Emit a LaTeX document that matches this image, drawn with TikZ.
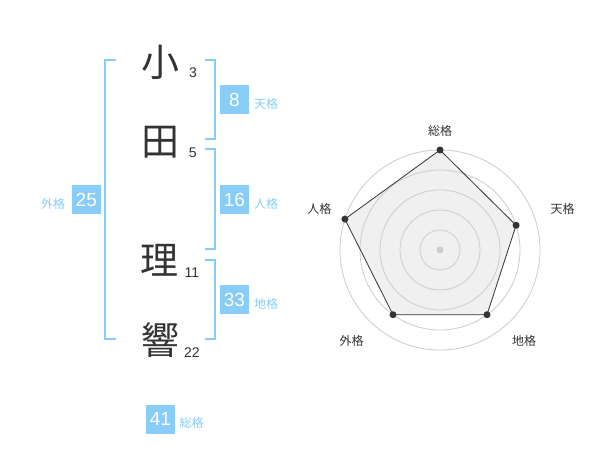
\documentclass[tikz,border=0pt]{standalone}
\usepackage{fontspec}
\setmainfont{Liberation Sans}
\newfontfamily\cjk{Noto Sans CJK JP}
\definecolor{sky}{HTML}{88CCF8}
\definecolor{ink}{HTML}{333333}
\definecolor{ring}{HTML}{CCCCCC}
\definecolor{fillg}{HTML}{F0F0F0}
\tikzset{
 kanji/.style={font=\cjk\fontsize{38}{38}\selectfont, text=ink, inner sep=0pt},
 strokes/.style={font=\fontsize{14}{14}\selectfont, text=ink, inner sep=0pt},
 numbox/.style={fill=sky, text=white, minimum width=29pt, minimum height=29pt, inner sep=0pt, font=\fontsize{19}{19}\selectfont},
 kaku/.style={font=\cjk\fontsize{12}{12}\selectfont, text=sky, inner sep=0pt},
 bracket/.style={draw=sky, line width=2pt},
 ringline/.style={draw=ring, line width=0.8pt},
 radarlabel/.style={font=\cjk\fontsize{12}{12}\selectfont, text=ink, inner sep=0pt},
 dot/.style={circle, fill=ink, inner sep=0pt, minimum size=7pt},
}
\begin{document}
\begin{tikzpicture}[x=1pt,y=-1pt]
\useasboundingbox[fill=white] (0,0) rectangle (600,470);
% brackets
\draw[bracket] (116,60) -- (105,60) -- (105,339.5) -- (116,339.5);
\draw[bracket] (205,60) -- (214.5,60) -- (214.5,139.5) -- (205,139.5);
\draw[bracket] (205,149.5) -- (214.5,149.5) -- (214.5,249.5) -- (205,249.5);
\draw[bracket] (205,260) -- (214.5,260) -- (214.5,339.5) -- (205,339.5);
% kanji
\node[kanji] (k1) at (160,62) {小};
\node[kanji] (k2) at (160,142) {田};
\node[kanji] (k3) at (159.5,260) {理};
\node[kanji] (k4) at (160,340) {響};
\node[strokes] (s1) at (193,73) {3};
\node[strokes] (s2) at (192.7,152.7) {5};
\node[strokes] (s3) at (192,273) {11};
\node[strokes] (s4) at (192,353) {22};
% boxes
\node[numbox] (ten) at (234.5,100) {8};
\node[kaku] (tenl) at (266,104) {天格};
\node[numbox] (jin) at (234.5,200) {16};
\node[kaku] (jinl) at (266,204) {人格};
\node[numbox] (chi) at (234.5,300) {33};
\node[kaku] (chil) at (266,304) {地格};
\node[numbox] (gai) at (86.3,200) {25};
\node[kaku] (gail) at (53,204) {外格};
\node[numbox] (sou) at (160.5,419) {41};
\node[kaku] (soul) at (191.5,423) {総格};
% radar
\coordinate (c) at (440,250);
\coordinate (p1) at (440,150);
\coordinate (p2) at (516.1,225.3);
\coordinate (p3) at (487.0,314.7);
\coordinate (p4) at (393.0,314.7);
\coordinate (p5) at (344.9,219.1);
\fill[fillg] (p1) -- (p2) -- (p3) -- (p4) -- (p5) -- cycle;
\foreach \r in {20,40,60,80,100} \draw[ringline] (c) circle[radius=\r];
\draw[ink, line width=0.8pt, line join=round] (p1) -- (p2) -- (p3) -- (p4) -- (p5) -- cycle;
\node[circle, fill=ring, inner sep=0pt, minimum size=7pt] (cd) at (c) {};
\node[dot] (d1) at (p1) {};
\node[dot] (d2) at (p2) {};
\node[dot] (d3) at (p3) {};
\node[dot] (d4) at (p4) {};
\node[dot] (d5) at (p5) {};
\node[radarlabel] (l1) at (440,130.7) {総格};
\node[radarlabel] (l2) at (562.7,208.7) {天格};
\node[radarlabel] (l3) at (524,340.7) {地格};
\node[radarlabel] (l4) at (351.7,340.7) {外格};
\node[radarlabel] (l5) at (319.3,208.7) {人格};
\end{tikzpicture}
\end{document}
